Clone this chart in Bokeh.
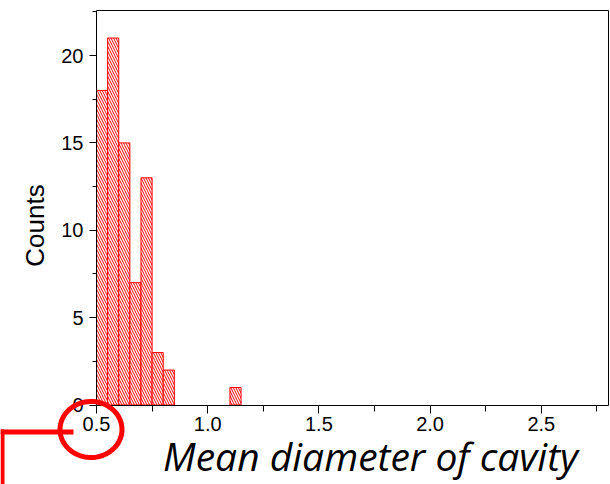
import numpy as np
from bokeh.plotting import figure
from bokeh.models import Range1d, FixedTicker, Label, PolyAnnotation, BoxAnnotation, LinearAxis
from bokeh.embed import file_html
from bokeh.resources import INLINE

# data
bin_left = [0.50, 0.55, 0.60, 0.65, 0.70, 0.75, 0.80, 1.10]
bin_width = 0.05
counts = [18, 21, 15, 7, 13, 3, 2, 1]
x_major = [0.5, 1.0, 1.5, 2.0, 2.5]
x_minor = [0.75, 1.25, 1.75, 2.25, 2.75]
y_major = [0, 5, 10, 15, 20]
y_minor = [2.5, 7.5, 12.5, 17.5, 22.5]
x_label = "Mean diameter of cavity"
y_label = "Counts"

bin_right = [b + bin_width for b in bin_left]

# axes box extent (data units)
X0, X1 = 0.5, 2.8
Y0, Y1 = 0.0, 22.6
W, H = 610, 484
XPX = 222.4   # pixels per x unit
YPX = 17.475  # pixels per y unit
x_start = X0 - 96 / XPX
y_start = Y0 - (H - 404.5) / YPX

p = figure(width=W, height=H,
           x_range=Range1d(x_start, x_start + W / XPX),
           y_range=Range1d(y_start, y_start + H / YPX),
           output_backend="svg", toolbar_location=None,
           min_border_left=0, min_border_right=0, min_border_top=0, min_border_bottom=0)
p.title.visible = False
p.grid.visible = False
p.outline_line_color = None
p.background_fill_color = "white"
p.border_fill_color = "white"

p.quad(left=bin_left, right=bin_right, bottom=0, top=counts,
       fill_color="white", line_color="#ff0000", line_width=1,
       hatch_pattern="\\", hatch_color="#ff0000", hatch_scale=5, hatch_weight=1)

xa = p.xaxis[0]
ya = p.yaxis[0]
xa.fixed_location = Y0
ya.fixed_location = X0
xa.bounds = (X0, X1)
ya.bounds = (Y0, Y1)
for ax in (xa, ya):
    ax.axis_line_color = "black"
    ax.major_tick_line_color = "black"
    ax.minor_tick_line_color = "black"
    ax.major_tick_in = 0
    ax.minor_tick_in = 0
    ax.major_label_text_font = "Liberation Sans"
    ax.major_label_text_font_size = "20px"
    ax.major_label_text_color = "black"

xa.ticker = FixedTicker(ticks=x_major, minor_ticks=x_minor)
ya.ticker = FixedTicker(ticks=y_major, minor_ticks=y_minor)
xa.major_tick_out = 8
xa.minor_tick_out = 6
ya.major_tick_out = 7
ya.minor_tick_out = 4
xa.major_label_standoff = 4
ya.major_label_standoff = 6
xa.major_label_overrides = {0.5: "0.5", 1.0: "1.0", 1.5: "1.5", 2.0: "2.0", 2.5: "2.5"}

# top and right frame lines
top_axis = LinearAxis(fixed_location=Y1, bounds=(X0, X1), ticker=FixedTicker(ticks=[]),
                      axis_line_color="black", major_tick_line_color=None, minor_tick_line_color=None)
right_axis = LinearAxis(fixed_location=X1, bounds=(Y0, Y1), ticker=FixedTicker(ticks=[]),
                        axis_line_color="black", major_tick_line_color=None, minor_tick_line_color=None)
p.add_layout(top_axis, "above")
p.add_layout(right_axis, "right")

# axis titles (screen units: from bottom-left of the canvas)
p.add_layout(Label(x=370, y=H - 455, x_units="screen", y_units="screen", text=x_label,
                   text_font="Open Sans", text_font_style="italic", text_font_size="39px",
                   text_align="center", text_baseline="middle", text_color="black"))
p.add_layout(Label(x=34, y=H - 225, x_units="screen", y_units="screen", text=y_label,
                   angle=np.pi / 2, text_font="Liberation Sans", text_font_size="26px",
                   text_align="center", text_baseline="middle", text_color="black"))

# red highlight annotation
t = np.linspace(0, 2 * np.pi, 72)
p.add_layout(PolyAnnotation(xs=list(90.5 + 31 * np.cos(t)), ys=list((H - 429) + 28 * np.sin(t)),
                            xs_units="screen", ys_units="screen",
                            fill_alpha=0, line_color="#ff0000", line_alpha=1, line_width=5))
p.add_layout(BoxAnnotation(left=0, right=73, top=H - 429, bottom=H - 434,
                           left_units="screen", right_units="screen", top_units="screen", bottom_units="screen",
                           fill_color="#ff0000", fill_alpha=1, line_alpha=0))
p.add_layout(BoxAnnotation(left=0, right=4, top=H - 429, bottom=0,
                           left_units="screen", right_units="screen", top_units="screen", bottom_units="screen",
                           fill_color="#ff0000", fill_alpha=1, line_alpha=0))

open("out.html", "w").write(file_html(p, INLINE))
